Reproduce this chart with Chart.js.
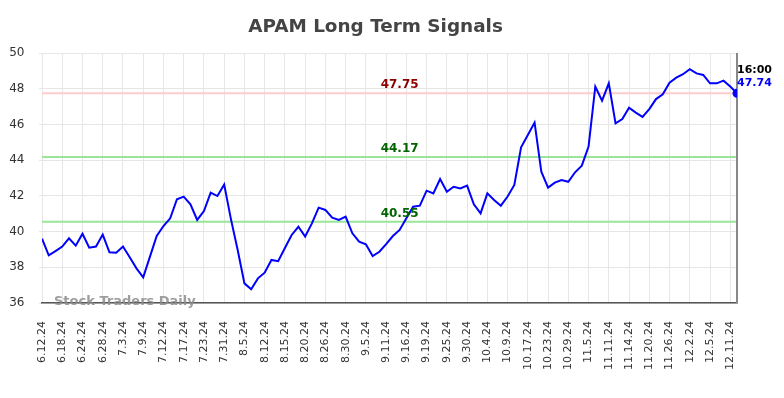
<!DOCTYPE html>
<html>
<head>
<meta charset="utf-8">
<title>APAM Long Term Signals</title>
<script src="https://cdn.jsdelivr.net/npm/chart.js@4.4.1/dist/chart.umd.min.js"></script>
<style>
  html, body { margin: 0; padding: 0; background: #fff; }
  #wrap { width: 784px; height: 398px; }
</style>
</head>
<body>
<div id="wrap"><canvas id="signal-chart" width="784" height="398"></canvas></div>
<script>
// Tick labels, one every third point
const tickLabels = [
    '6.12.24', '6.18.24', '6.24.24', '6.28.24', '7.3.24', '7.9.24', '7.12.24',
    '7.17.24', '7.23.24', '7.31.24', '8.5.24', '8.12.24', '8.15.24', '8.20.24',
    '8.26.24', '8.30.24', '9.5.24', '9.11.24', '9.16.24', '9.19.24', '9.25.24',
    '9.30.24', '10.4.24', '10.9.24', '10.17.24', '10.23.24', '10.29.24', '11.5.24',
    '11.11.24', '11.14.24', '11.20.24', '11.26.24', '12.2.24', '12.5.24', '12.11.24'
];

// Closing prices
const prices = [
    39.60, 38.67, 38.91, 39.16, 39.62, 39.21, 39.88, 39.10, 39.16, 39.83,
    38.84, 38.82, 39.16, 38.56, 37.94, 37.44, 38.60, 39.75, 40.31, 40.74,
    41.81, 41.96, 41.53, 40.65, 41.15, 42.18, 41.99, 42.63, 40.70, 38.97,
    37.10, 36.77, 37.38, 37.70, 38.41, 38.34, 39.08, 39.81, 40.27, 39.72,
    40.46, 41.34, 41.21, 40.78, 40.65, 40.84, 39.90, 39.44, 39.29, 38.63,
    38.87, 39.30, 39.75, 40.09, 40.74, 41.39, 41.45, 42.29, 42.14, 42.94,
    42.23, 42.51, 42.42, 42.57, 41.53, 41.02, 42.14, 41.77, 41.45, 41.96,
    42.61, 44.72, 45.41, 46.10, 43.35, 42.46, 42.74, 42.89, 42.79, 43.32,
    43.69, 44.76, 48.12, 47.33, 48.30, 46.06, 46.30, 46.94, 46.66, 46.42,
    46.86, 47.42, 47.69, 48.34, 48.62, 48.81, 49.09, 48.86, 48.77, 48.30,
    48.30, 48.45, 48.12, 47.74
];

// Signal levels
const levelValues = [47.75, 44.17, 40.55];
const levelColors = ['#ffcccc', '#99e699', '#99e699'];
const levelTextColors = ['#8b0000', '#006400', '#006400'];

const chartTitle = 'APAM Long Term Signals';
const lastTime = '16:00';
const lastIndex = prices.length - 1;

Chart.defaults.font.family = 'DejaVu Sans';

// Draws the title, signal lines, the last-price marker and the labels
const signalPlugin = {
    id: 'signalLevels',
    beforeDatasetsDraw(chart) {
        const { ctx, chartArea, scales: { x, y } } = chart;
        ctx.save();
        levelValues.forEach((value, i) => {
            const py = y.getPixelForValue(value);
            ctx.strokeStyle = levelColors[i];
            ctx.lineWidth = 2;
            ctx.beginPath();
            ctx.moveTo(chartArea.left, py);
            ctx.lineTo(chartArea.right, py);
            ctx.stroke();
        });
        const lx = x.getPixelForValue(lastIndex);
        ctx.strokeStyle = '#888';
        ctx.lineWidth = 2;
        ctx.beginPath();
        ctx.moveTo(lx, chartArea.top);
        ctx.lineTo(lx, chartArea.bottom);
        ctx.stroke();
        ctx.restore();
    },
    afterDatasetsDraw(chart) {
        const { ctx, chartArea, scales: { x, y } } = chart;
        ctx.save();
        // title
        ctx.font = 'bold 18.4px "DejaVu Sans"';
        ctx.textAlign = 'center';
        ctx.textBaseline = 'middle';
        ctx.fillStyle = '#444';
        ctx.fillText(chartTitle, (chartArea.left + chartArea.right) / 2 - 14, chartArea.top - 26);

        ctx.font = 'bold 12px "DejaVu Sans"';
        const tx = x.getPixelForValue(53);
        levelValues.forEach((value, i) => {
            ctx.fillStyle = levelTextColors[i];
            ctx.fillText(value.toFixed(2), tx, y.getPixelForValue(value) - 8);
        });

        const lx = x.getPixelForValue(lastIndex);
        const ly = y.getPixelForValue(prices[lastIndex]);
        ctx.font = 'bold 11px "DejaVu Sans"';
        ctx.textAlign = 'left';
        ctx.fillStyle = '#000';
        ctx.fillText(lastTime, lx, ly - 23);
        ctx.fillStyle = '#0000ff';
        ctx.fillText(prices[lastIndex].toFixed(2), lx, ly - 10);

        ctx.font = 'bold 13px "DejaVu Sans"';
        ctx.fillStyle = 'rgba(140, 140, 140, 0.85)';
        ctx.fillText('Stock Traders Daily', chartArea.left + 12, chartArea.bottom - 1);
        ctx.restore();
    }
};

const ctx = document.getElementById('signal-chart').getContext('2d');

const signalChart = new Chart(ctx, {
    type: 'line',
    data: {
        datasets: [{
            label: 'APAM',
            data: prices.map((p, i) => ({ x: i, y: p })),
            borderColor: '#0000ff',
            backgroundColor: '#0000ff',
            borderWidth: 2,
            tension: 0,
            pointRadius: c => (c.dataIndex === lastIndex ? 3.5 : 0),
            pointHoverRadius: 0
        }]
    },
    options: {
        responsive: false,
        animation: false,
        layout: { padding: { left: 0, right: 47, top: 53, bottom: 0 } },
        plugins: {
            legend: { display: false },
            tooltip: { enabled: false },
            title: { display: false }
        },
        scales: {
            x: {
                type: 'linear',
                min: 0,
                max: lastIndex,
                afterFit: scale => { scale.height = 95; },
                grid: { color: '#e6e6e6', drawTicks: false },
                border: { color: '#555', width: 1.5 },
                ticks: {
                    stepSize: 3,
                    includeBounds: false,
                    autoSkip: false,
                    maxRotation: 90,
                    minRotation: 90,
                    padding: 18,
                    color: '#333',
                    font: { size: 11 },
                    callback: value => tickLabels[value / 3]
                }
            },
            y: {
                min: 36,
                max: 50,
                afterFit: scale => { scale.width = 42; },
                grid: { color: '#e6e6e6', tickLength: 3 },
                border: { display: false },
                ticks: {
                    stepSize: 2,
                    padding: 14.5,
                    color: '#333',
                    font: { size: 12 }
                }
            }
        }
    },
    plugins: [signalPlugin]
});
</script>
</body>
</html>
